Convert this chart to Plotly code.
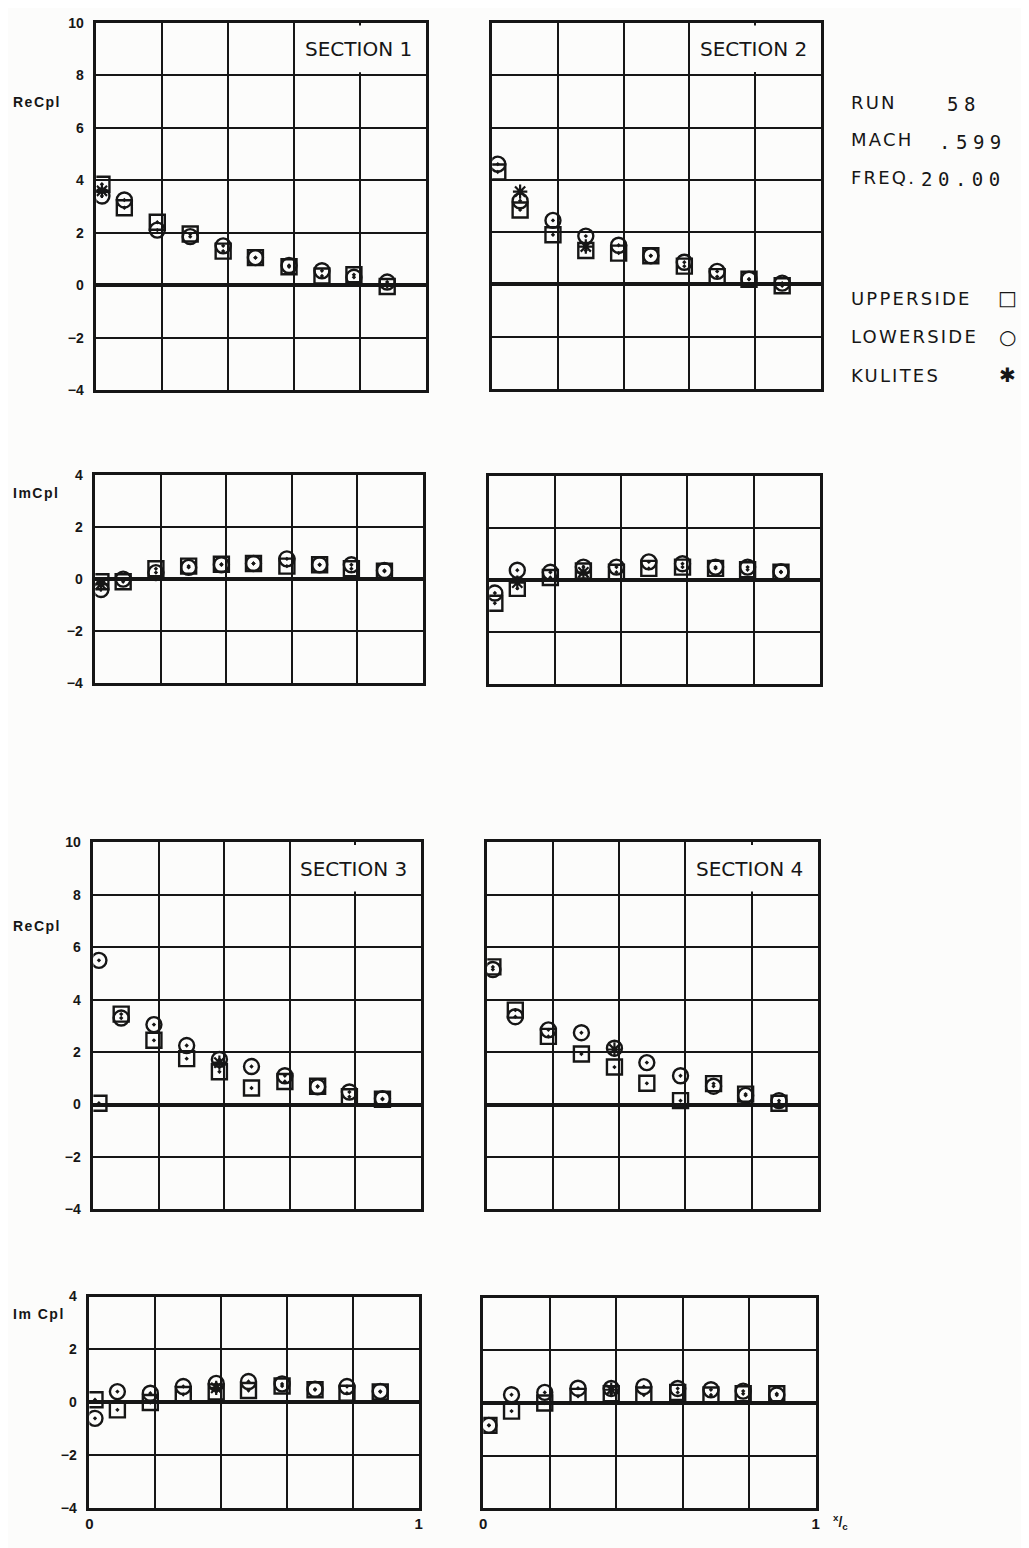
import plotly.graph_objects as go

# ---------------- data ----------------
x_pos = [0.017, 0.085, 0.185, 0.285, 0.385, 0.483, 0.585, 0.685, 0.782, 0.883]

sec1_re_upper = [3.85, 2.95, 2.4, 1.95, 1.3, 1.05, 0.7, 0.35, 0.4, -0.05]
sec1_re_lower = [3.4, 3.25, 2.1, 1.85, 1.5, 1.05, 0.75, 0.55, 0.3, 0.12]
sec1_im_upper = [-0.1, -0.1, 0.4, 0.5, 0.57, 0.6, 0.5, 0.55, 0.4, 0.3]
sec1_im_lower = [-0.4, 0.0, 0.25, 0.45, 0.55, 0.6, 0.78, 0.55, 0.55, 0.33]
sec1_kul_x = [0.017]
sec1_kul_re = [3.6]
sec1_kul_im = [-0.2]

sec2_re_upper = [4.3, 2.85, 1.9, 1.3, 1.2, 1.1, 0.7, 0.3, 0.2, -0.05]
sec2_re_lower = [4.6, 3.2, 2.45, 1.85, 1.5, 1.1, 0.85, 0.5, 0.2, 0.05]
sec2_im_upper = [-0.89, -0.32, 0.1, 0.35, 0.3, 0.45, 0.5, 0.45, 0.4, 0.3]
sec2_im_lower = [-0.5, 0.38, 0.3, 0.5, 0.5, 0.7, 0.63, 0.5, 0.5, 0.32]
sec2_kul_x = [0.085, 0.285]
sec2_kul_re = [3.55, 1.45]
sec2_kul_im = [-0.1, 0.3]

sec3_re_upper = [0.05, 3.45, 2.45, 1.75, 1.25, 0.63, 0.88, 0.7, 0.3, 0.2]
sec3_re_lower = [5.5, 3.3, 3.05, 2.25, 1.72, 1.45, 1.1, 0.68, 0.48, 0.22]
sec3_im_upper = [0.1, -0.28, 0.0, 0.3, 0.4, 0.45, 0.62, 0.48, 0.35, 0.4]
sec3_im_lower = [-0.6, 0.41, 0.35, 0.6, 0.72, 0.79, 0.7, 0.5, 0.6, 0.42]
sec3_kul_x = [0.385]
sec3_kul_re = [1.6]
sec3_kul_im = [0.55]

sec4_re_upper = [5.25, 3.6, 2.6, 1.93, 1.43, 0.81, 0.15, 0.8, 0.4, 0.05]
sec4_re_lower = [5.15, 3.35, 2.85, 2.74, 2.15, 1.6, 1.1, 0.7, 0.35, 0.15]
sec4_im_upper = [-0.85, -0.31, 0.0, 0.25, 0.35, 0.3, 0.4, 0.3, 0.35, 0.35]
sec4_im_lower = [-0.85, 0.31, 0.4, 0.56, 0.55, 0.62, 0.55, 0.5, 0.45, 0.3]
sec4_kul_x = [0.385]
sec4_kul_re = [2.1]
sec4_kul_im = [0.5]

re_ticks = [-4, -2, 0, 2, 4, 6, 8, 10]
im_ticks = [-4, -2, 0, 2, 4]
x_label_ticks = [0, 1]
x_label_text = ["0", "1"]
x_grid = [0.2, 0.4, 0.6, 0.8]
section_names = ["SECTION 1", "SECTION 2", "SECTION 3", "SECTION 4"]

# page body adds an 8px margin; compensate
OFF = 8
W, H = 1029 - OFF, 1548 - OFF
INK = "#161616"
BG = "#fcfcfb"

def px(v):
    return (v - OFF) / W

def py(v):
    return 1 - (v - OFF) / H

# panel pixel boxes in reference coords: (left, right, top, bottom)
panels = [
    (93, 425, 15, 386),     # 1 sec1 Re
    (492, 823, 15, 385),    # 2 sec2 Re
    (92, 422, 472, 682),    # 3 sec1 Im
    (489, 822, 473, 683),   # 4 sec2 Im
    (90, 420, 843, 1214),   # 5 sec3 Re
    (487, 820, 843, 1214),  # 6 sec4 Re
    (86, 418, 1302, 1516),  # 7 sec3 Im
    (483, 818, 1303, 1516), # 8 sec4 Im
]

fig = go.Figure()

def add_panel(idx, up, low, kx, kul):
    ax = "" if idx == 1 else str(idx)
    xa, ya = "x" + ax, "y" + ax
    fig.add_trace(go.Scatter(x=x_pos, y=up, mode="markers", xaxis=xa, yaxis=ya,
                             marker=dict(symbol="square-open-dot", size=15, color=INK,
                                         line=dict(width=2.4)), showlegend=False))
    fig.add_trace(go.Scatter(x=x_pos, y=low, mode="markers", xaxis=xa, yaxis=ya,
                             marker=dict(symbol="circle-open-dot", size=15, color=INK,
                                         line=dict(width=2.4)), showlegend=False))
    fig.add_trace(go.Scatter(x=kx, y=kul, mode="markers", xaxis=xa, yaxis=ya,
                             marker=dict(symbol="asterisk-open", size=12, color=INK,
                                         line=dict(width=2.2)), showlegend=False))

add_panel(1, sec1_re_upper, sec1_re_lower, sec1_kul_x, sec1_kul_re)
add_panel(2, sec2_re_upper, sec2_re_lower, sec2_kul_x, sec2_kul_re)
add_panel(3, sec1_im_upper, sec1_im_lower, sec1_kul_x, sec1_kul_im)
add_panel(4, sec2_im_upper, sec2_im_lower, sec2_kul_x, sec2_kul_im)
add_panel(5, sec3_re_upper, sec3_re_lower, sec3_kul_x, sec3_kul_re)
add_panel(6, sec4_re_upper, sec4_re_lower, sec4_kul_x, sec4_kul_re)
add_panel(7, sec3_im_upper, sec3_im_lower, sec3_kul_x, sec3_kul_im)
add_panel(8, sec4_im_upper, sec4_im_lower, sec4_kul_x, sec4_kul_im)

layout = dict(width=W, height=H, margin=dict(l=0, r=0, t=0, b=0),
              paper_bgcolor=BG, plot_bgcolor=BG, showlegend=False)

annotations = []
shapes = []
is_re_panel = {1: True, 2: True, 3: False, 4: False, 5: True, 6: True, 7: False, 8: False}
left_col = {1, 3, 5, 7}
bottom_row = {7, 8}
sec_of = {1: 0, 2: 1, 5: 2, 6: 3}

for i, (l, r, t, b) in enumerate(panels, start=1):
    ax = "" if i == 1 else str(i)
    xdom = [px(l), px(r)]
    ydom = [py(b), py(t)]
    is_re = is_re_panel[i]
    layout["xaxis" + ax] = dict(
        domain=xdom, range=[0, 1], anchor="y" + ax,
        tickmode="array", tickvals=x_label_ticks, ticktext=x_label_text,
        showticklabels=i in bottom_row, ticks="",
        tickfont=dict(family="Liberation Sans", size=15, color=INK, weight="bold"),
        showgrid=True, gridcolor=INK, gridwidth=1.6, zeroline=False,
        minor=dict(tickmode="array", tickvals=x_grid, showgrid=True,
                   gridcolor=INK, gridwidth=1.6, ticks=""),
        showline=True, mirror=True, linecolor=INK, linewidth=2.6, fixedrange=True)
    layout["yaxis" + ax] = dict(
        domain=ydom, range=[-4, 10] if is_re else [-4, 4], anchor="x" + ax,
        tickmode="array", tickvals=re_ticks if is_re else im_ticks,
        showticklabels=i in left_col, ticks="", ticklabelstandoff=7,
        tickfont=dict(family="Liberation Sans", size=14, color=INK, weight="bold"),
        showgrid=True, gridcolor=INK, gridwidth=1.6,
        zeroline=True, zerolinecolor=INK, zerolinewidth=3.6,
        showline=True, mirror=True, linecolor=INK, linewidth=2.6, fixedrange=True)
    if is_re:
        # the top-right label cell has no gridline at x=0.8
        shapes.append(dict(type="line", xref="x" + ax, yref="y" + ax,
                           x0=0.8, x1=0.8, y0=8.12, y1=9.9, layer="between",
                           line=dict(color=BG, width=4)))
        annotations.append(dict(xref="x" + ax, yref="y" + ax, x=0.795, y=9.0,
                                text=section_names[sec_of[i]], showarrow=False,
                                font=dict(family="DejaVu Sans", size=20, color=INK)))

# axis titles
for txt, ypix in [("ReCpl", 95), ("ImCpl", 490), ("ReCpl", 928), ("Im Cpl", 1320)]:
    annotations.append(dict(xref="paper", yref="paper", x=px(7), y=py(ypix),
                            xanchor="left", yanchor="middle",
                            text='<span style="letter-spacing:1.5px">' + txt + '</span>',
                            showarrow=False,
                            font=dict(family="Liberation Sans", size=14, color=INK, weight="bold")))

SP_LAB = '<span style="letter-spacing:2.2px">{}</span>'
SP_VAL = '<span style="letter-spacing:5.5px">{}</span>'

# run info
info = [("RUN", "58", 95, 948), ("MACH", ".599", 133, 940), ("FREQ.", "20.00", 171, 922)]
for lab, val, ypix, xval in info:
    annotations.append(dict(xref="paper", yref="paper", x=px(852), y=py(ypix),
                            xanchor="left", yanchor="middle", text=SP_LAB.format(lab),
                            showarrow=False,
                            font=dict(family="DejaVu Sans", size=18, color=INK)))
    annotations.append(dict(xref="paper", yref="paper", x=px(xval), y=py(ypix + 2),
                            xanchor="left", yanchor="middle", text=SP_VAL.format(val),
                            showarrow=False,
                            font=dict(family="DejaVu Sans Mono", size=19, color=INK)))

legend_items = [("UPPERSIDE", "□", 293), ("LOWERSIDE", "○", 332), ("KULITES", "✱", 371)]
for lab, sym, ypix in legend_items:
    annotations.append(dict(xref="paper", yref="paper", x=px(852), y=py(ypix),
                            xanchor="left", yanchor="middle", text=SP_LAB.format(lab),
                            showarrow=False,
                            font=dict(family="DejaVu Sans", size=18, color=INK)))
    annotations.append(dict(xref="paper", yref="paper", x=px(1011), y=py(ypix),
                            xanchor="center", yanchor="middle", text=sym, showarrow=False,
                            font=dict(family="DejaVu Sans", size=20, color=INK)))

# x/c label
annotations.append(dict(xref="paper", yref="paper", x=px(843), y=py(1530),
                        xanchor="center", yanchor="middle",
                        text="<sup>x</sup>/<sub>c</sub>", showarrow=False,
                        font=dict(family="Liberation Sans", size=14, color=INK, weight="bold")))

layout["annotations"] = annotations
layout["shapes"] = shapes
fig.update_layout(**layout)
fig.write_html("out.html")
